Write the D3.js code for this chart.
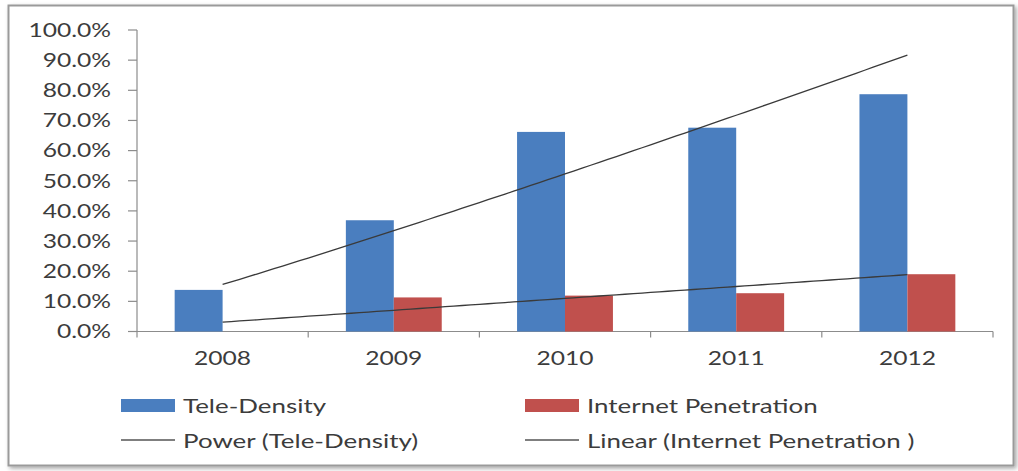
<!DOCTYPE html>
<html>
<head>
<meta charset="utf-8">
<script src="https://cdn.jsdelivr.net/npm/d3@7"></script>
<style>
  html, body { margin: 0; padding: 0; background: #fff; }
  svg { display: block; }
  text { font-family: Lato, "Open Sans", sans-serif; fill: #3c3c3c; }
</style>
</head>
<body>
<script>
// Chart data
const years = ["2008", "2009", "2010", "2011", "2012"];
const teleDensity = [0.138, 0.369, 0.662, 0.676, 0.787];
const internetPenetration = [0.0, 0.113, 0.119, 0.127, 0.190];
const seriesNames = ["Tele-Density", "Internet Penetration"];
const trendNames = ["Power (Tele-Density)", "Linear (Internet Penetration )"];
const yTicks = [0, 0.1, 0.2, 0.3, 0.4, 0.5, 0.6, 0.7, 0.8, 0.9, 1.0];

const W = 1018, H = 471;
const colors = ["#4a7ebf", "#c0504d"];
const textScaleX = 1.33;

const svg = d3.select("body").append("svg").attr("width", W).attr("height", H);

// Frame with soft shadow
const defs = svg.append("defs");
const f = defs.append("filter").attr("id", "shadow").attr("x", "-5%").attr("y", "-5%").attr("width", "110%").attr("height", "110%");
f.append("feDropShadow").attr("dx", 2).attr("dy", 2).attr("stdDeviation", 2).attr("flood-color", "#000").attr("flood-opacity", 0.35);
svg.append("rect").attr("x", 8.5).attr("y", 5.5).attr("width", 1005).attr("height", 460)
  .attr("fill", "#fff").attr("stroke", "#9a9a9a").attr("stroke-width", 2).attr("filter", "url(#shadow)");

const plot = { left: 137, right: 993, top: 30, bottom: 331.5 };

const x0 = d3.scaleBand().domain(years).range([plot.left, plot.right]).padding(0);
const x1 = d3.scaleBand().domain(seriesNames)
  .range([x0.bandwidth() * 0.22, x0.bandwidth() * 0.78]).padding(0);
const y = d3.scaleLinear().domain([0, 1]).range([plot.bottom, plot.top]);

// Helper: horizontally widened text
function label(g, x, yy, str, anchor, size) {
  return g.append("text")
    .attr("transform", `translate(${x},${yy}) scale(${textScaleX},1)`)
    .attr("text-anchor", anchor)
    .attr("dominant-baseline", "central")
    .style("font-size", size + "px")
    .text(str);
}

// Y axis
const yAxis = svg.append("g");
yAxis.append("line").attr("x1", plot.left).attr("x2", plot.left)
  .attr("y1", y(0)).attr("y2", y(1)).attr("stroke", "#8c8c8c").attr("stroke-width", 1.2);
yTicks.forEach(t => {
  yAxis.append("line").attr("x1", plot.left - 9).attr("x2", plot.left)
    .attr("y1", y(t)).attr("y2", y(t)).attr("stroke", "#8c8c8c").attr("stroke-width", 1.2);
  label(yAxis, 111, y(t), d3.format(".1%")(t), "end", 18.5);
});

// X axis
const xAxis = svg.append("g");
xAxis.append("line").attr("x1", plot.left - 9).attr("x2", plot.right)
  .attr("y1", y(0)).attr("y2", y(0)).attr("stroke", "#8c8c8c").attr("stroke-width", 1.2);
const bounds = years.map(d => x0(d)).concat([plot.right]);
bounds.forEach(b => {
  xAxis.append("line").attr("x1", b).attr("x2", b)
    .attr("y1", y(0)).attr("y2", y(0) + 6).attr("stroke", "#8c8c8c").attr("stroke-width", 1.2);
});
years.forEach(d => label(xAxis, x0(d) + x0.bandwidth() / 2, 358, d, "middle", 18.5));

// Bars
const values = [teleDensity, internetPenetration];
const bars = svg.append("g");
seriesNames.forEach((s, si) => {
  bars.selectAll(null).data(years).enter().append("rect")
    .attr("x", d => x0(d) + x1(s))
    .attr("width", x1.bandwidth())
    .attr("y", (d, i) => y(values[si][i]))
    .attr("height", (d, i) => y(0) - y(values[si][i]))
    .attr("fill", colors[si]);
});

// Trend lines (least squares, x = 1..n)
const xs = years.map((d, i) => i + 1);
function linFit(X, Y) {
  const n = X.length, mx = d3.mean(X), my = d3.mean(Y);
  let sxy = 0, sxx = 0;
  for (let i = 0; i < n; i++) { sxy += (X[i] - mx) * (Y[i] - my); sxx += (X[i] - mx) ** 2; }
  const b = sxy / sxx;
  return { a: my - b * mx, b };
}
const pw = linFit(xs.map(Math.log), teleDensity.map(Math.log));
const powerFn = t => Math.exp(pw.a) * Math.pow(t, pw.b);
const ln = linFit(xs, internetPenetration);
const linFn = t => ln.a + ln.b * t;

const xCenter = t => x0(years[0]) + x0.bandwidth() / 2 + (t - 1) * x0.step();
const samples = d3.range(1, 5.0001, 0.05);
const line = fn => d3.line().x(t => xCenter(t)).y(t => y(fn(t)))(samples);

svg.append("path").attr("d", line(powerFn)).attr("fill", "none").attr("stroke", "#3a3a3a").attr("stroke-width", 1.3);
svg.append("path").attr("d", line(linFn)).attr("fill", "none").attr("stroke", "#3a3a3a").attr("stroke-width", 1.3);

// Legend
const legend = svg.append("g");
const legX = [121, 525];
seriesNames.forEach((s, i) => {
  legend.append("rect").attr("x", legX[i]).attr("y", 399).attr("width", 54).attr("height", 13).attr("fill", colors[i]);
  label(legend, legX[i] + 62, 405, s, "start", 19.5);
});
trendNames.forEach((s, i) => {
  legend.append("line").attr("x1", legX[i]).attr("x2", legX[i] + 54).attr("y1", 440).attr("y2", 440)
    .attr("stroke", "#555").attr("stroke-width", 1.3);
  label(legend, legX[i] + 62, 440, s, "start", 19.5);
});
</script>
</body>
</html>
